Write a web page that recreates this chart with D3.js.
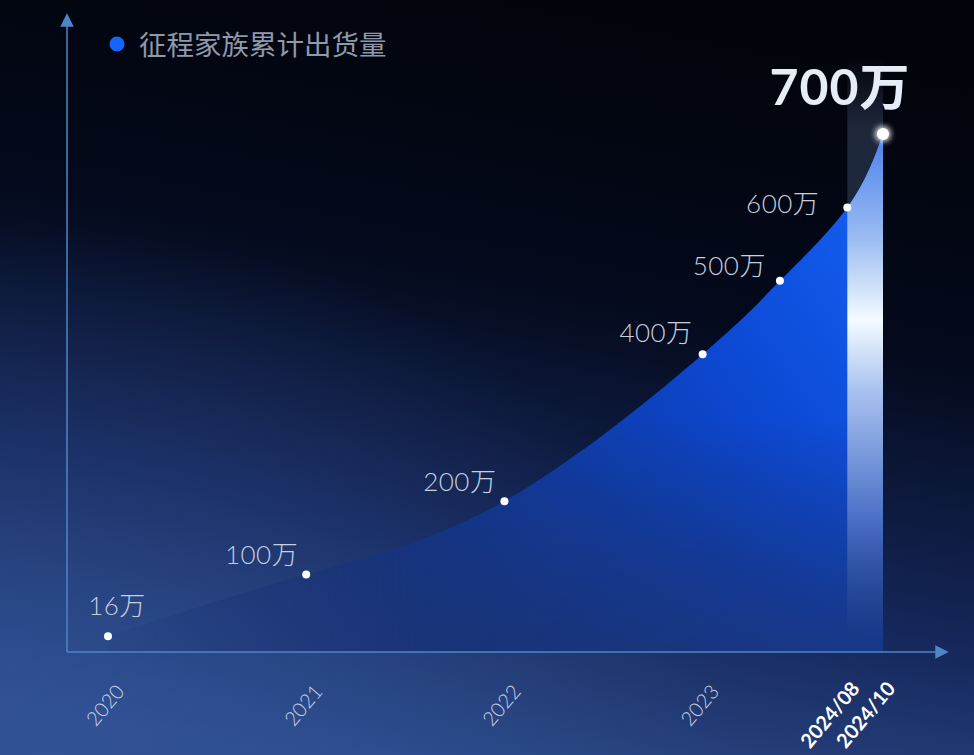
<!DOCTYPE html>
<html>
<head>
<meta charset="utf-8">
<script src="https://cdn.jsdelivr.net/npm/d3@7"></script>
<style>
  html, body { margin: 0; padding: 0; background: #02050e; }
  svg { display: block; }
</style>
</head>
<body>
<svg id="chart" width="974" height="755"></svg>
<script>
// data
var xPos = [0, 1, 2, 3, 3.39, 3.73, 3.91];           // position along the (non-linear) time axis
var shipments = [16, 100, 200, 400, 500, 600, 700];  // 万 units
var pointLabels = ["16万", "100万", "200万", "400万", "500万", "600万", "700万"];
var tickPos = [0, 1, 2, 3, 3.73, 3.91];
var tickLabels = ["2020", "2021", "2022", "2023", "2024/08", "2024/10"];
var seriesName = "征程家族累计出货量";

// label offsets relative to each point (layout only)
var labelDx = [9, -8, -8, -10, -14, -28, -43];
var labelDy = [-21, -11, -10, -12, -6, 6, -29];

var svg = d3.select("#chart");
var W = 974, H = 755;
var originX = 67, baseY = 652;

var x = d3.scaleLinear().domain([0, 3.91]).range([108, 883]);
var y = d3.scaleLinear().domain([0, 700]).range([648, 134]);

var defs = svg.append("defs");

// background
var bg = defs.append("linearGradient").attr("id", "bg")
    .attr("x1", "0.55").attr("y1", "0").attr("x2", "0.3").attr("y2", "1");
bg.append("stop").attr("offset", "0").attr("stop-color", "#02040b");
bg.append("stop").attr("offset", "0.35").attr("stop-color", "#040a1c");
bg.append("stop").attr("offset", "0.7").attr("stop-color", "#15275a");
bg.append("stop").attr("offset", "1").attr("stop-color", "#2d4c8c");
svg.append("rect").attr("width", W).attr("height", H).attr("fill", "url(#bg)");

var glowBg = defs.append("radialGradient").attr("id", "glowBg")
    .attr("cx", "0.05").attr("cy", "1").attr("r", "0.7");
glowBg.append("stop").attr("offset", "0").attr("stop-color", "#33559a").attr("stop-opacity", 0.6);
glowBg.append("stop").attr("offset", "1").attr("stop-color", "#33559a").attr("stop-opacity", 0);
svg.append("rect").attr("width", W).attr("height", H).attr("fill", "url(#glowBg)");

// area fill
var areaGrad = defs.append("linearGradient").attr("id", "areaGrad")
    .attr("gradientUnits", "userSpaceOnUse")
    .attr("x1", 880).attr("y1", 170).attr("x2", 200).attr("y2", 660);
areaGrad.append("stop").attr("offset", "0").attr("stop-color", "#1460f5");
areaGrad.append("stop").attr("offset", "0.3").attr("stop-color", "#0c47d0");
areaGrad.append("stop").attr("offset", "0.65").attr("stop-color", "#113795").attr("stop-opacity", 0.9);
areaGrad.append("stop").attr("offset", "1").attr("stop-color", "#17307a").attr("stop-opacity", 0.5);

// fade the left end of the area
var leftFade = defs.append("linearGradient").attr("id", "leftFade")
    .attr("gradientUnits", "userSpaceOnUse")
    .attr("x1", 108).attr("y1", 0).attr("x2", 420).attr("y2", 0);
leftFade.append("stop").attr("offset", "0").attr("stop-color", "#fff").attr("stop-opacity", 0.1);
leftFade.append("stop").attr("offset", "1").attr("stop-color", "#fff").attr("stop-opacity", 1);
defs.append("mask").attr("id", "areaMask")
  .append("rect").attr("width", W).attr("height", H).attr("fill", "url(#leftFade)");

var pts = xPos.map(function(d, i) { return [d, shipments[i]]; });

var area = d3.area()
    .x(function(d) { return x(d[0]); })
    .y0(baseY)
    .y1(function(d) { return y(d[1]); })
    .curve(d3.curveNatural);

defs.append("clipPath").attr("id", "areaClip")
  .append("path").attr("d", area(pts));

var areaG = svg.append("g").attr("mask", "url(#areaMask)");
areaG.append("path")
    .attr("d", area(pts))
    .attr("fill", "url(#areaGrad)");

// bottom fade of the area into the background
var fade = defs.append("linearGradient").attr("id", "fade")
    .attr("x1", 0).attr("y1", 0).attr("x2", 0).attr("y2", 1);
fade.append("stop").attr("offset", "0").attr("stop-color", "#1a3270").attr("stop-opacity", 0);
fade.append("stop").attr("offset", "1").attr("stop-color", "#1b3372").attr("stop-opacity", 0.75);
areaG.append("rect")
    .attr("x", 0).attr("y", 420).attr("width", W).attr("height", baseY - 420)
    .attr("fill", "url(#fade)")
    .attr("clip-path", "url(#areaClip)");

// highlight column between the last two ticks
var barX0 = x(3.73), barX1 = x(3.91);
var faint = defs.append("linearGradient").attr("id", "faint")
    .attr("x1", 0).attr("y1", 0).attr("x2", 0).attr("y2", 1);
faint.append("stop").attr("offset", "0").attr("stop-color", "#8fb0e8").attr("stop-opacity", 0);
faint.append("stop").attr("offset", "0.12").attr("stop-color", "#8fb0e8").attr("stop-opacity", 0.2);
faint.append("stop").attr("offset", "0.8").attr("stop-color", "#6d90d8").attr("stop-opacity", 0.18);
faint.append("stop").attr("offset", "1").attr("stop-color", "#6d90d8").attr("stop-opacity", 0);
svg.append("rect")
    .attr("x", barX0).attr("y", 58).attr("width", barX1 - barX0).attr("height", 580)
    .attr("fill", "url(#faint)");

var bright = defs.append("linearGradient").attr("id", "bright")
    .attr("gradientUnits", "userSpaceOnUse")
    .attr("x1", 0).attr("y1", 140).attr("x2", 0).attr("y2", 640);
bright.append("stop").attr("offset", "0").attr("stop-color", "#4f84ec");
bright.append("stop").attr("offset", "0.2").attr("stop-color", "#9dbdf2");
bright.append("stop").attr("offset", "0.36").attr("stop-color", "#f2fbff");
bright.append("stop").attr("offset", "0.5").attr("stop-color", "#a9c3f0");
bright.append("stop").attr("offset", "0.75").attr("stop-color", "#4d72c8");
bright.append("stop").attr("offset", "0.92").attr("stop-color", "#2a4690").attr("stop-opacity", 0.6);
bright.append("stop").attr("offset", "1").attr("stop-color", "#22397a").attr("stop-opacity", 0);
svg.append("rect")
    .attr("x", barX0).attr("y", 120).attr("width", barX1 - barX0).attr("height", 520)
    .attr("fill", "url(#bright)")
    .attr("clip-path", "url(#areaClip)");

// axes
var axisColor = "#4d86c8";
defs.append("marker").attr("id", "arrow")
    .attr("viewBox", "0 0 10 10").attr("refX", 5).attr("refY", 5)
    .attr("markerWidth", 9).attr("markerHeight", 9)
    .attr("orient", "auto")
  .append("path").attr("d", "M0,0L10,5L0,10Z").attr("fill", axisColor);

svg.append("line")
    .attr("x1", originX).attr("y1", baseY).attr("x2", originX).attr("y2", 20)
    .attr("stroke", axisColor).attr("stroke-width", 1.5)
    .attr("marker-end", "url(#arrow)");
svg.append("line")
    .attr("x1", originX).attr("y1", baseY).attr("x2", 942).attr("y2", baseY)
    .attr("stroke", axisColor).attr("stroke-width", 1.5)
    .attr("marker-end", "url(#arrow)");

// tick labels
var xAxis = d3.axisBottom(x)
    .tickValues(tickPos)
    .tickFormat(function(d, i) { return tickLabels[i]; })
    .tickSize(0);
var gx = svg.append("g").attr("transform", "translate(0," + baseY + ")").call(xAxis);
gx.select(".domain").remove();
gx.selectAll("text")
    .attr("font-family", "Lato, 'Noto Sans', sans-serif")
    .attr("font-size", 20)
    .attr("font-weight", function(d, i) { return i >= 4 ? 700 : 300; })
    .attr("fill", function(d, i) { return i >= 4 ? "#ffffff" : "#c8d3e6"; })
    .attr("text-anchor", "end")
    .attr("dy", 0)
    .attr("y", 0)
    .attr("transform", function(d, i) {
        return i >= 4 ? "translate(13,37) rotate(-50)" : "translate(17,40) rotate(-50)";
    });

// points
var glow = defs.append("filter").attr("id", "glow")
    .attr("x", "-200%").attr("y", "-200%").attr("width", "500%").attr("height", "500%");
glow.append("feGaussianBlur").attr("stdDeviation", 3.5).attr("result", "b");
var fm = glow.append("feMerge");
fm.append("feMergeNode").attr("in", "b");
fm.append("feMergeNode").attr("in", "b");
fm.append("feMergeNode").attr("in", "SourceGraphic");

svg.selectAll("circle.pt")
    .data(pts)
  .enter().append("circle")
    .attr("class", "pt")
    .attr("cx", function(d) { return x(d[0]); })
    .attr("cy", function(d) { return y(d[1]); })
    .attr("r", function(d, i) { return i === pts.length - 1 ? 6 : 4; })
    .attr("fill", "#ffffff")
    .attr("filter", function(d, i) { return i === pts.length - 1 ? "url(#glow)" : null; });

// point labels
var last = pts.length - 1;
svg.selectAll("text.lbl")
    .data(pts)
  .enter().append("text")
    .attr("class", "lbl")
    .attr("x", function(d, i) { return x(d[0]) + labelDx[i]; })
    .attr("y", function(d, i) { return y(d[1]) + labelDy[i]; })
    .attr("text-anchor", function(d, i) { return i === 0 || i === last ? "middle" : "end"; })
    .attr("font-family", "Lato, 'Noto Sans CJK SC', sans-serif")
    .attr("font-size", function(d, i) { return i === last ? 50 : 26; })
    .attr("font-weight", function(d, i) { return i === last ? 700 : 300; })
    .attr("letter-spacing", function(d, i) { return i === last ? 1 : 0.5; })
    .attr("fill", function(d, i) { return i === last ? "#e6edf7" : "#c5cfdd"; })
    .text(function(d, i) { return pointLabels[i]; });

// legend
svg.append("circle").attr("cx", 117).attr("cy", 44).attr("r", 7.5).attr("fill", "#1565ff");
svg.append("text")
    .attr("x", 139).attr("y", 55)
    .attr("font-family", "'Noto Sans CJK SC', sans-serif")
    .attr("font-size", 27.5)
    .attr("fill", "#8e99ab")
    .text(seriesName);
</script>
</body>
</html>
